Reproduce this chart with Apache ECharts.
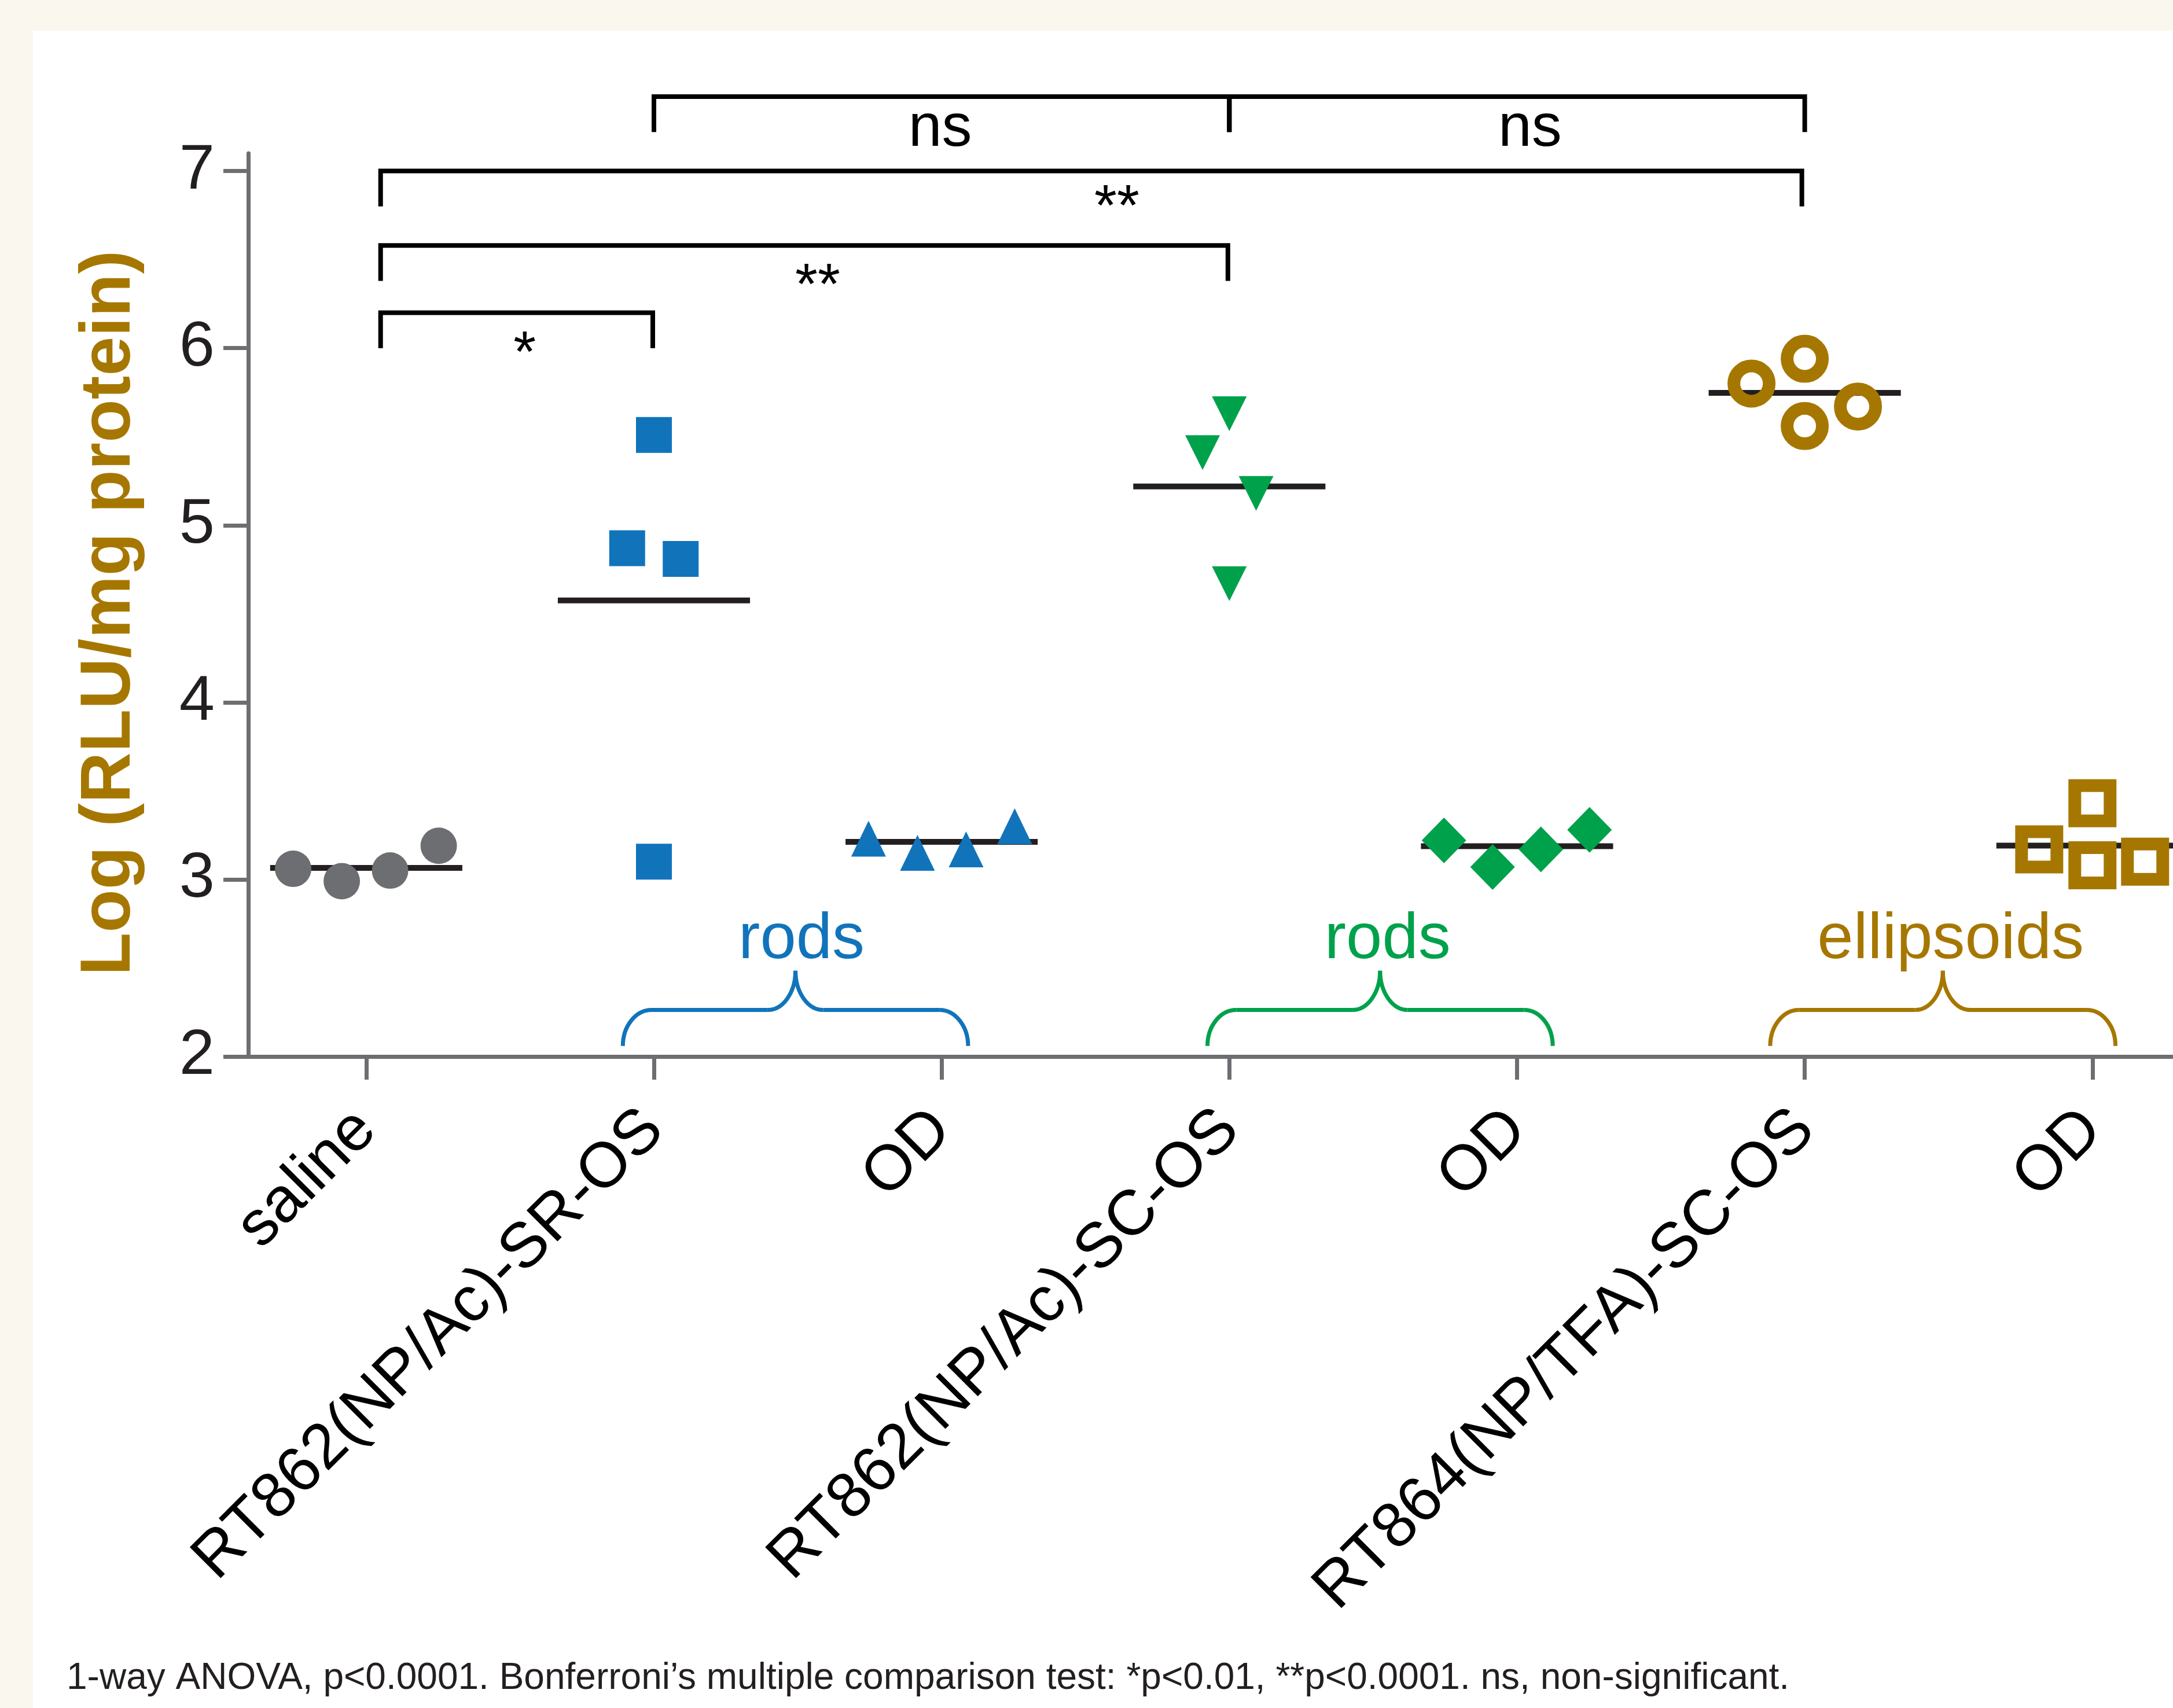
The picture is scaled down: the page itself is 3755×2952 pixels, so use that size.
<!DOCTYPE html>
<html>
<head>
<meta charset="utf-8">
<title>Log RLU per mg protein</title>
<script src="https://cdn.jsdelivr.net/npm/echarts@6/dist/echarts.min.js"></script>
<style>
  html, body { margin: 0; padding: 0; background: #faf7ef; }
  #chart { width: 3755px; height: 2952px; }
</style>
</head>
<body>
<div id="chart"></div>
<script>
// categories on the x axis
const categories = [
  "saline",
  "RT862(NP/Ac)-SR-OS",
  "OD",
  "RT862(NP/Ac)-SC-OS",
  "OD",
  "RT864(NP/TFA)-SC-OS",
  "OD",
];
const catIndex = [0, 1, 2, 3, 4, 5, 6];
const yTicks = [2, 3, 4, 5, 6, 7];

// individual animals, log(RLU/mg protein), with the horizontal jitter used in the figure
const salineY = [3.06, 2.99, 3.05, 3.19];
const salineJitter = [-0.254, -0.085, 0.083, 0.252];
const srOsY = [5.51, 4.87, 4.81, 3.1];
const srOsJitter = [0, -0.093, 0.093, 0];
const srOdY = [3.23, 3.15, 3.17, 3.3];
const srOdJitter = [-0.254, -0.084, 0.085, 0.254];
const scOsY = [5.63, 5.41, 5.18, 4.67];
const scOsJitter = [0, -0.093, 0.093, 0];
const scOdY = [3.22, 3.07, 3.17, 3.28];
const scOdJitter = [-0.254, -0.085, 0.083, 0.252];
const tfaOsY = [5.8, 5.94, 5.67, 5.56];
const tfaOsJitter = [-0.185, 0, 0.185, 0];
const tfaOdY = [3.17, 3.43, 3.08, 3.1];
const tfaOdJitter = [-0.185, 0, 0, 0.183];

// group means (horizontal bars)
const groupMeans = [3.065, 4.575, 3.212, 5.219, 3.188, 5.747, 3.191];

// significance brackets
const bracketFrom = [1, 3, 0.05, 0.05, 0.05];
const bracketTo = [3, 5, 4.99, 2.995, 0.996];
const bracketTop = [7.42, 7.42, 7.0, 6.58, 6.2];
const bracketFoot = [7.22, 7.22, 6.8, 6.38, 6.0];
const sigLabels = ["ns", "ns", "**", "**", "*"];
const sigLabelX = [1.995, 4.045, 2.609, 1.569, 0.551];
const sigLabelY = [7.235, 7.235, 6.785, 6.34, 5.958];

// curly braces grouping formulation + vehicle
const braceCenters = [1.492, 3.524, 5.48];
const braceLabels = ["rods", "rods", "ellipsoids"];
const braceLabelX = [1.513, 3.55, 5.507];
const braceLevels = [2.06, 2.263, 2.484]; // foot, shoulder, peak
const braceLabelY = 2.657;

const FONT = "'Liberation Sans', Arial, Helvetica, sans-serif";
const AXIS = "#6d6e71";
const BLUE = "#1174bb";
const GREEN = "#00a14b";
const GOLD = "#a67700";
const GREY = "#6d6e71";
const braceColors = [BLUE, GREEN, GOLD];

function points(idx, ys, jitter) {
  return ys.map((y, i) => [idx + jitter[i], y]);
}

const chart = echarts.init(document.getElementById("chart"), null, {
  renderer: "canvas",
});

//散点系列
function dots(idx, ys, jitter, symbol, size, style, extra) {
  return Object.assign(
    {
      type: "scatter",
      data: points(idx, ys, jitter),
      symbol: symbol,
      symbolSize: size,
      itemStyle: Object.assign({ opacity: 1 }, style),
      z: 4,
      silent: true,
    },
    extra || {}
  );
}

const option = {
  animation: false,
  backgroundColor: "#faf7ef",
  textStyle: { fontFamily: FONT },
  title: {
    text: "1-way ANOVA, p<0.0001. Bonferroni\u2019s multiple comparison test: *p<0.01, **p<0.0001. ns, non-significant.",
    left: 115,
    top: 2869,
    padding: 0,
    textStyle: {
      fontFamily: FONT,
      fontSize: 64,
      fontWeight: "normal",
      color: "#231f20",
    },
  },
  graphic: {
    elements: [
      {
        type: "rect",
        z: -1,
        silent: true,
        shape: { x: 57, y: 53, width: 3755 - 57, height: 2952 - 53 },
        style: { fill: "#ffffff" },
      },
    ],
  },
  grid: {
    left: 429,
    right: 0,
    top: 265,
    bottom: 1126,
    containLabel: false,
    outerBoundsMode: "none",
  },
  xAxis: {
    type: "value",
    min: -0.41,
    max: 6.28,
    axisLine: { show: true, onZero: false, lineStyle: { color: AXIS, width: 7 } },
    axisTick: {
      show: true,
      customValues: catIndex,
      length: 40,
      lineStyle: { color: AXIS, width: 7 },
    },
    axisLabel: {
      customValues: catIndex,
      formatter: (v) => categories[Math.round(v)],
      rotate: 45,
      margin: 110,
      fontSize: 110,
      fontFamily: FONT,
      color: "#000000",
    },
    splitLine: { show: false },
  },
  yAxis: {
    type: "value",
    min: 2,
    max: 7.1,
    axisLine: { show: true, onZero: false, lineStyle: { color: AXIS, width: 7 } },
    axisTick: {
      show: true,
      customValues: yTicks,
      length: 43,
      lineStyle: { color: AXIS, width: 7 },
    },
    axisLabel: {
      customValues: yTicks,
      margin: 58,
      fontSize: 110,
      fontFamily: FONT,
      color: "#231f20",
    },
    splitLine: { show: false },
    name: "Log (RLU/mg protein)",
    nameLocation: "middle",
    nameGap: 178,
    nameRotate: 90,
    nameTextStyle: {
      fontFamily: FONT,
      fontSize: 122,
      fontWeight: "bold",
      color: GOLD,
      padding: [0, 28, 0, 0],
    },
  },
  series: [
    // mean bars
    {
      type: "custom",
      z: 3,
      silent: true,
      data: groupMeans.map((m, i) => [catIndex[i], m]),
      renderItem: function (params, api) {
        const c = api.value(0);
        const m = api.value(1);
        const a = api.coord([c - 0.334, m]);
        const b = api.coord([c + 0.334, m]);
        return {
          type: "line",
          shape: { x1: a[0], y1: a[1], x2: b[0], y2: b[1] },
          style: { stroke: "#231f20", lineWidth: 10 },
        };
      },
    },
    dots(0, salineY, salineJitter, "circle", 63, { color: GREY }),
    dots(1, srOsY, srOsJitter, "rect", 62, { color: BLUE }),
    dots(2, srOdY, srOdJitter, "triangle", [60, 62], { color: BLUE }),
    dots(3, scOsY, scOsJitter, "triangle", [60, 60], { color: GREEN }, { symbolRotate: 180 }),
    dots(4, scOdY, scOdJitter, "diamond", [77, 79], { color: GREEN }),
    dots(5, tfaOsY, tfaOsJitter, "circle", 61, {
      color: "transparent",
      borderColor: GOLD,
      borderWidth: 22,
    }),
    dots(6, tfaOdY, tfaOdJitter, "rect", 61, {
      color: "transparent",
      borderColor: GOLD,
      borderWidth: 22,
    }),
    // significance brackets with their labels
    {
      type: "custom",
      z: 5,
      silent: true,
      clip: false,
      data: bracketFrom.map((x1, i) => [x1, bracketTo[i], bracketTop[i], bracketFoot[i]]),
      renderItem: function (params, api) {
        const i = params.dataIndex;
        const x1 = api.value(0);
        const x2 = api.value(1);
        const top = api.value(2);
        const foot = api.value(3);
        const pts = [
          api.coord([x1, foot]),
          api.coord([x1, top]),
          api.coord([x2, top]),
          api.coord([x2, foot]),
        ];
        const lp = api.coord([sigLabelX[i], sigLabelY[i]]);
        return {
          type: "group",
          children: [
            {
              type: "polyline",
              shape: { points: pts },
              style: { stroke: "#000000", lineWidth: 8, fill: null, lineJoin: "miter" },
            },
            {
              type: "text",
              x: lp[0],
              y: lp[1],
              style: {
                text: sigLabels[i],
                fontFamily: FONT,
                fontSize: sigLabels[i] === "ns" ? 104 : 100,
                fill: "#000000",
                align: "center",
                verticalAlign: "middle",
              },
            },
          ],
        };
      },
    },
    // braces under the OS / OD pairs
    {
      type: "custom",
      z: 5,
      silent: true,
      clip: false,
      data: braceCenters.map((c, i) => [c, braceLabelX[i]]),
      renderItem: function (params, api) {
        const i = params.dataIndex;
        const c = api.value(0);
        const color = braceColors[i];
        const k = 0.5523;
        const e1 = api.coord([c - 0.6, braceLevels[0]]);
        const s1 = api.coord([c - 0.5, braceLevels[1]]);
        const n1 = api.coord([c - 0.096, braceLevels[1]]);
        const p = api.coord([c, braceLevels[2]]);
        const n2 = api.coord([c + 0.096, braceLevels[1]]);
        const s2 = api.coord([c + 0.5, braceLevels[1]]);
        const e2 = api.coord([c + 0.6, braceLevels[0]]);
        const lp = api.coord([api.value(1), braceLabelY]);
        const st = { stroke: color, lineWidth: 7, fill: null };
        return {
          type: "group",
          children: [
            {
              type: "bezierCurve",
              shape: {
                x1: e1[0], y1: e1[1], x2: s1[0], y2: s1[1],
                cpx1: e1[0], cpy1: e1[1] + k * (s1[1] - e1[1]),
                cpx2: s1[0] - k * (s1[0] - e1[0]), cpy2: s1[1],
              },
              style: st,
            },
            {
              type: "line",
              shape: { x1: s1[0], y1: s1[1], x2: n1[0], y2: n1[1] },
              style: st,
            },
            {
              type: "bezierCurve",
              shape: {
                x1: n1[0], y1: n1[1], x2: p[0], y2: p[1],
                cpx1: n1[0] + k * (p[0] - n1[0]), cpy1: n1[1],
                cpx2: p[0], cpy2: p[1] + k * (n1[1] - p[1]),
              },
              style: st,
            },
            {
              type: "bezierCurve",
              shape: {
                x1: p[0], y1: p[1], x2: n2[0], y2: n2[1],
                cpx1: p[0], cpy1: p[1] + k * (n2[1] - p[1]),
                cpx2: n2[0] - k * (n2[0] - p[0]), cpy2: n2[1],
              },
              style: st,
            },
            {
              type: "line",
              shape: { x1: n2[0], y1: n2[1], x2: s2[0], y2: s2[1] },
              style: st,
            },
            {
              type: "bezierCurve",
              shape: {
                x1: s2[0], y1: s2[1], x2: e2[0], y2: e2[1],
                cpx1: s2[0] + k * (e2[0] - s2[0]), cpy1: s2[1],
                cpx2: e2[0], cpy2: e2[1] - k * (e2[1] - s2[1]),
              },
              style: st,
            },
            {
              type: "text",
              x: lp[0],
              y: lp[1],
              style: {
                text: braceLabels[i],
                fontFamily: FONT,
                fontSize: 112,
                fill: color,
                align: "center",
                verticalAlign: "middle",
              },
            },
          ],
        };
      },
    },
  ],
};

chart.setOption(option);

//窗口大小变化时重置图表
window.addEventListener("resize", () => {
  chart.resize();
});
</script>
</body>
</html>
